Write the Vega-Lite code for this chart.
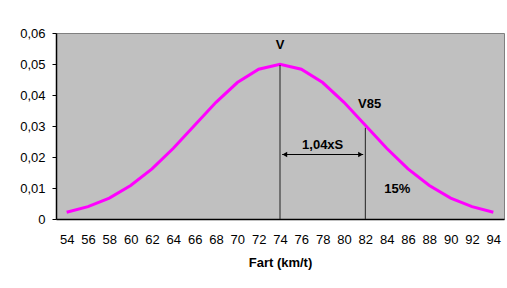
{
  "$schema": "https://vega.github.io/schema/vega-lite/v6.json",
  "width": 448,
  "height": 186,
  "autosize": "none",
  "padding": {"left": 56, "top": 33, "right": 3, "bottom": 69},
  "background": "white",
  "config": {
    "font": "Arial",
    "view": {"fill": "#C0C0C0", "stroke": "#808080", "strokeWidth": 1},
    "axis": {
      "labelFont": "Arial", "titleFont": "Arial",
      "labelOverlap": false, "labelFlush": false, "labelBound": false,
      "labelFontSize": 13, "labelColor": "#000000", "grid": false,
      "domainColor": "#000000", "domainWidth": 1.5, "tickColor": "#000000",
      "titleFontSize": 13, "titleFontWeight": "bold", "titleColor": "#000000"
    },
    "axisX": {"ticks": false, "labelPadding": 14, "titlePadding": 10},
    "axisY": {"tickSize": 4, "labelPadding": 7}
  },
  "datasets": {
    "curve": [
      {"x": 54, "y": 0.00219}, {"x": 56, "y": 0.00397}, {"x": 58, "y": 0.00675},
      {"x": 60, "y": 0.01079}, {"x": 62, "y": 0.01619}, {"x": 64, "y": 0.02283},
      {"x": 66, "y": 0.03025}, {"x": 68, "y": 0.03764}, {"x": 70, "y": 0.04401},
      {"x": 72, "y": 0.04833}, {"x": 74, "y": 0.04987}, {"x": 76, "y": 0.04833},
      {"x": 78, "y": 0.04401}, {"x": 80, "y": 0.03764}, {"x": 82, "y": 0.03025},
      {"x": 84, "y": 0.02283}, {"x": 86, "y": 0.01619}, {"x": 88, "y": 0.01079},
      {"x": 90, "y": 0.00675}, {"x": 92, "y": 0.00397}, {"x": 94, "y": 0.00219}
    ],
    "vlines": [
      {"x": 74, "y": 0, "y2": 0.0497},
      {"x": 82, "y": 0, "y2": 0.0294}
    ],
    "arrow": [{"x": 74.2, "x2": 81.8, "y": 0.0208}],
    "heads": [
      {"x": 74.45, "y": 0.0208, "shape": "triangle-left"},
      {"x": 81.55, "y": 0.0208, "shape": "triangle-right"}
    ],
    "labels": [
      {"x": 74, "y": 0.0561, "t": "V"},
      {"x": 82.4, "y": 0.0371, "t": "V85"},
      {"x": 78, "y": 0.0239, "t": "1,04xS"},
      {"x": 85, "y": 0.0097, "t": "15%"}
    ]
  },
  "encoding": {
    "x": {
      "field": "x", "type": "quantitative",
      "scale": {"domain": [53, 95], "nice": false, "zero": false},
      "axis": {
        "title": "Fart (km/t)",
        "values": [54,56,58,60,62,64,66,68,70,72,74,76,78,80,82,84,86,88,90,92,94],
        "labelOverlap": false
      }
    },
    "y": {
      "field": "y", "type": "quantitative",
      "scale": {"domain": [0, 0.06], "nice": false},
      "axis": {
        "title": null,
        "values": [0, 0.01, 0.02, 0.03, 0.04, 0.05, 0.06],
        "labelOverlap": false,
        "labelExpr": "datum.value == 0 ? '0' : replace(format(datum.value, '.2f'), '.', ',')"
      }
    }
  },
  "layer": [
    {
      "data": {"name": "curve"},
      "mark": {"type": "line", "color": "#FF00FF", "strokeWidth": 3}
    },
    {
      "data": {"name": "vlines"},
      "mark": {"type": "rule", "color": "#222222", "strokeWidth": 1},
      "encoding": {"y2": {"field": "y2"}}
    },
    {
      "data": {"name": "arrow"},
      "mark": {"type": "rule", "color": "#000000", "strokeWidth": 1.2},
      "encoding": {"x2": {"field": "x2"}}
    },
    {
      "data": {"name": "heads"},
      "mark": {"type": "point", "filled": true, "color": "#000000", "size": 30, "opacity": 1},
      "encoding": {
        "shape": {"field": "shape", "type": "nominal", "scale": null, "legend": null}
      }
    },
    {
      "data": {"name": "labels"},
      "mark": {"type": "text", "fontSize": 13, "fontWeight": "bold", "color": "#000000", "align": "center", "baseline": "middle"},
      "encoding": {"text": {"field": "t"}}
    }
  ]
}
